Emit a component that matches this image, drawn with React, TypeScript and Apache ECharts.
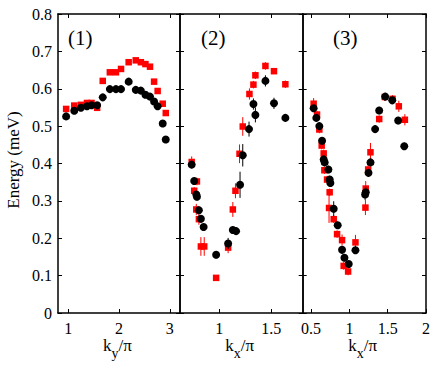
import React, { useEffect, useRef } from "react";
import * as echarts from "echarts";

// Panel (1): E vs ky/pi
const p1X = [0.96, 1.12, 1.25, 1.37, 1.46, 1.57, 1.68, 1.82, 1.94, 2.04, 2.19, 2.33, 2.43, 2.52, 2.61, 2.69, 2.76, 2.86, 2.92];
const p1Black = [0.526, 0.541, 0.549, 0.553, 0.556, 0.556, 0.577, 0.599, 0.599, 0.599, 0.619, 0.597, 0.595, 0.584, 0.579, 0.566, 0.553, 0.507, 0.464];
const p1Red = [0.546, 0.555, 0.557, 0.562, 0.562, 0.549, 0.621, 0.644, 0.644, 0.653, 0.671, 0.676, 0.671, 0.666, 0.659, 0.619, 0.594, 0.56, 0.535];

// Panel (2): E vs kx/pi
const p2BlackX = [0.737, 0.761, 0.781, 0.787, 0.806, 0.825, 0.851, 0.971, 1.086, 1.131, 1.162, 1.2, 1.226, 1.286, 1.328, 1.347, 1.443, 1.525, 1.634];
const p2BlackY = [0.397, 0.353, 0.317, 0.311, 0.275, 0.252, 0.23, 0.156, 0.186, 0.222, 0.219, 0.343, 0.422, 0.492, 0.559, 0.53, 0.621, 0.561, 0.522];
const p2BlackErr = [0.01, 0.01, 0.01, 0.01, 0.01, 0.01, 0.01, 0.01, 0.015, 0.01, 0.01, 0.035, 0.03, 0.02, 0.015, 0.02, 0.015, 0.015, 0.01];
const p2RedX = [0.737, 0.787, 0.761, 0.781, 0.806, 0.825, 0.857, 0.971, 1.086, 1.131, 1.156, 1.195, 1.226, 1.29, 1.328, 1.347, 1.443, 1.525, 1.634];
const p2RedY = [0.404, 0.352, 0.327, 0.277, 0.251, 0.178, 0.178, 0.094, 0.175, 0.277, 0.327, 0.426, 0.499, 0.586, 0.611, 0.636, 0.661, 0.647, 0.612];
const p2RedErr = [0.015, 0.01, 0.01, 0.015, 0.015, 0.025, 0.025, 0.005, 0.015, 0.02, 0.02, 0.025, 0.025, 0.015, 0.01, 0.01, 0.01, 0.005, 0.01];

// Panel (3): E vs kx/pi
const p3BlackX = [0.533, 0.568, 0.607, 0.643, 0.664, 0.677, 0.725, 0.742, 0.751, 0.795, 0.847, 0.904, 0.935, 0.991, 1.079, 1.205, 1.213, 1.249, 1.275, 1.336, 1.389, 1.467, 1.559, 1.637, 1.716];
const p3BlackY = [0.548, 0.522, 0.5, 0.461, 0.411, 0.403, 0.384, 0.357, 0.348, 0.279, 0.235, 0.169, 0.148, 0.131, 0.168, 0.317, 0.323, 0.375, 0.403, 0.492, 0.542, 0.579, 0.569, 0.515, 0.446];
const p3BlackErr = [0.01, 0.01, 0.01, 0.01, 0.01, 0.01, 0.01, 0.01, 0.01, 0.02, 0.01, 0.01, 0.01, 0.01, 0.01, 0.015, 0.015, 0.01, 0.01, 0.01, 0.01, 0.01, 0.01, 0.01, 0.01];
const p3RedX = [0.533, 0.577, 0.607, 0.638, 0.664, 0.673, 0.708, 0.742, 0.734, 0.795, 0.839, 0.904, 0.925, 0.983, 1.079, 1.209, 1.213, 1.245, 1.275, 1.389, 1.462, 1.563, 1.645, 1.724];
const p3RedY = [0.56, 0.531, 0.491, 0.448, 0.427, 0.382, 0.357, 0.323, 0.281, 0.251, 0.211, 0.195, 0.126, 0.111, 0.189, 0.282, 0.333, 0.384, 0.43, 0.519, 0.578, 0.573, 0.553, 0.517];
const p3RedErr = [0.015, 0.01, 0.01, 0.01, 0.01, 0.01, 0.01, 0.01, 0.04, 0.01, 0.01, 0.015, 0.01, 0.01, 0.02, 0.02, 0.02, 0.02, 0.025, 0.01, 0.01, 0.01, 0.015, 0.015];

// Axes
const xRanges = [
  [0.8, 3.2],
  [0.625, 1.8],
  [0.39, 2.0],
];
const xTicks = [
  [1, 2, 3],
  [1, 1.5],
  [0.5, 1, 1.5, 2],
];
const panelLabels = ["(1)", "(2)", "(3)"];
const xSubs = ["y", "x", "x"];
const yMin = 0;
const yMax = 0.8;
const yStep = 0.1;
const yName = "Energy (meV)";

const FONT = "'Liberation Serif', 'Times New Roman', serif";
const RED = "#ff0000";
const BLACK = "#000000";

export default function App() {
  const ref = useRef<HTMLDivElement>(null);
  useEffect(() => {
    document.body.style.margin = "0";
    const chart = echarts.init(ref.current!, null, { renderer: "svg" });

    const grids = [
      { left: 58, top: 14, width: 122, height: 299 },
      { left: 180, top: 14, width: 122.7, height: 299 },
      { left: 302.7, top: 14, width: 123.3, height: 299 },
    ];

    const lineStyle = { color: BLACK, width: 1.5 };
    const xAxes: any[] = [];
    const yAxes: any[] = [];
    grids.forEach((_, i) => {
      const [mn, mx] = xRanges[i];
      xAxes.push({
        type: "value",
        gridIndex: i,
        position: "bottom",
        min: mn,
        max: mx,
        axisLine: { show: true, onZero: false, lineStyle },
        axisTick: { show: true, inside: true, length: 4, customValues: xTicks[i], lineStyle: { color: BLACK, width: 1 } },
        axisLabel: {
          show: true,
          customValues: xTicks[i],
          margin: 7,
          fontFamily: FONT,
          fontSize: 16,
          color: BLACK,
          formatter: (v: number) => String(v),
        },
        splitLine: { show: false },
      });
      xAxes.push({
        type: "value",
        gridIndex: i,
        position: "top",
        min: mn,
        max: mx,
        axisLine: { show: true, onZero: false, lineStyle },
        axisTick: { show: true, inside: true, length: 4, customValues: xTicks[i], lineStyle: { color: BLACK, width: 1 } },
        axisLabel: { show: false },
        splitLine: { show: false },
      });
      yAxes.push({
        type: "value",
        gridIndex: i,
        position: "left",
        min: yMin,
        max: yMax,
        interval: yStep,
        axisLine: { show: true, onZero: false, lineStyle },
        axisTick: { show: true, inside: true, length: 4, lineStyle: { color: BLACK, width: 1 } },
        axisLabel: {
          show: i === 0,
          margin: 6,
          fontFamily: FONT,
          fontSize: 16,
          color: BLACK,
          formatter: (v: number) => String(Math.round(v * 10) / 10),
        },
        splitLine: { show: false },
      });
      yAxes.push({
        type: "value",
        gridIndex: i,
        position: "right",
        min: yMin,
        max: yMax,
        interval: yStep,
        axisLine: { show: true, onZero: false, lineStyle },
        axisTick: { show: true, inside: true, length: 4, lineStyle: { color: BLACK, width: 1 } },
        axisLabel: { show: false },
        splitLine: { show: false },
      });
    });

    const errSeries = (panel: number, xs: number[], ys: number[], es: number[], color: string, z: number) => ({
      type: "custom",
      xAxisIndex: panel * 2,
      yAxisIndex: panel * 2,
      z,
      silent: true,
      data: xs.map((x, k) => [x, ys[k] - es[k], ys[k] + es[k]]),
      encode: { x: 0, y: [1, 2] },
      renderItem: (_p: any, api: any) => {
        const lo = api.coord([api.value(0), api.value(1)]);
        const hi = api.coord([api.value(0), api.value(2)]);
        return {
          type: "line",
          shape: { x1: lo[0], y1: lo[1], x2: hi[0], y2: hi[1] },
          style: { stroke: color, lineWidth: 1 },
        };
      },
    });

    const scat = (panel: number, xs: number[], ys: number[], kind: "red" | "black", z: number) => ({
      type: "scatter",
      xAxisIndex: panel * 2,
      yAxisIndex: panel * 2,
      z,
      symbol: kind === "red" ? "rect" : "circle",
      symbolSize: kind === "red" ? 6.5 : 8,
      itemStyle: { color: kind === "red" ? RED : BLACK, opacity: 1 },
      data: xs.map((x, k) => [x, ys[k]]),
    });

    const series: any[] = [
      scat(0, p1X, p1Red, "red", 2),
      scat(0, p1X, p1Black, "black", 4),
      errSeries(1, p2RedX, p2RedY, p2RedErr, RED, 1),
      scat(1, p2RedX, p2RedY, "red", 2),
      errSeries(1, p2BlackX, p2BlackY, p2BlackErr, BLACK, 3),
      scat(1, p2BlackX, p2BlackY, "black", 4),
      errSeries(2, p3RedX, p3RedY, p3RedErr, RED, 1),
      scat(2, p3RedX, p3RedY, "red", 2),
      errSeries(2, p3BlackX, p3BlackY, p3BlackErr, BLACK, 3),
      scat(2, p3BlackX, p3BlackY, "black", 4),
    ];

    const graphics: any[] = [];
    const labelX = [68, 201, 333];
    grids.forEach((g, i) => {
      graphics.push({
        type: "text",
        x: labelX[i],
        y: 37.5,
        style: { text: panelLabels[i], fontFamily: FONT, fontSize: 21, fill: BLACK, align: "left", verticalAlign: "middle" },
      });
      const c = g.left + g.width / 2;
      graphics.push({
        type: "text",
        x: c - 16,
        y: 345.5,
        style: { text: "k", fontFamily: FONT, fontSize: 17, fill: BLACK, align: "left", verticalAlign: "middle" },
      });
      graphics.push({
        type: "text",
        x: c - 7.5,
        y: 353,
        style: { text: xSubs[i], fontFamily: FONT, fontSize: 14, fill: BLACK, align: "left", verticalAlign: "middle" },
      });
      graphics.push({
        type: "text",
        x: c - 0.5,
        y: 345.5,
        style: { text: "/π", fontFamily: FONT, fontSize: 17, fill: BLACK, align: "left", verticalAlign: "middle" },
      });
    });
    graphics.push({
      type: "text",
      x: 13,
      y: 160,
      rotation: Math.PI / 2,
      style: { text: yName, fontFamily: FONT, fontSize: 17, fill: BLACK, align: "center", verticalAlign: "middle" },
    });

    chart.setOption({
      animation: false,
      backgroundColor: "#ffffff",
      grid: grids.map((g) => ({ ...g, containLabel: false })),
      xAxis: xAxes,
      yAxis: yAxes,
      series,
      graphic: graphics,
    });
    return () => chart.dispose();
  }, []);
  return <div ref={ref} style={{ width: 436, height: 368 }} />;
}
